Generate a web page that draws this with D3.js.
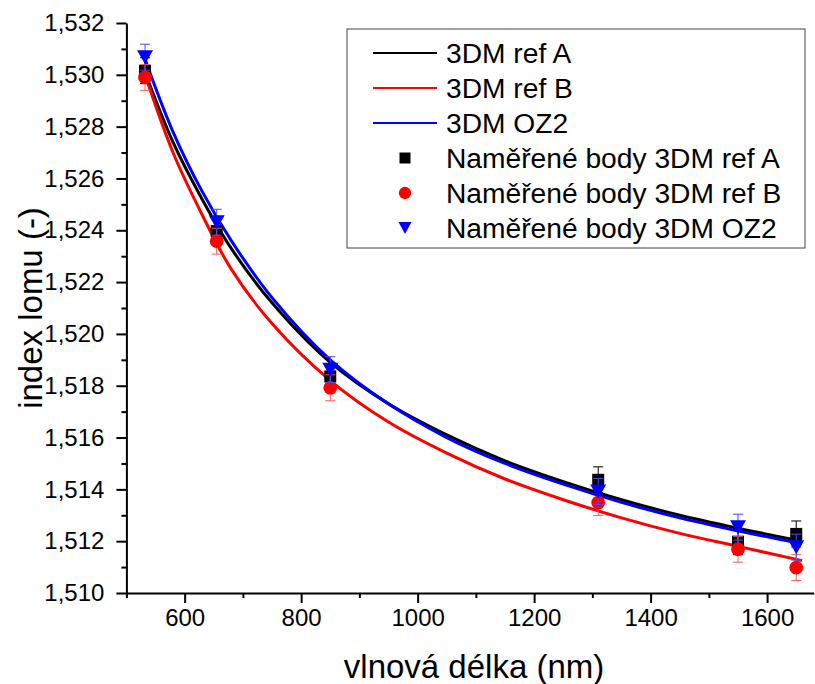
<!DOCTYPE html>
<html>
<head>
<meta charset="utf-8">
<script src="https://cdn.jsdelivr.net/npm/d3@7"></script>
<style>
  body { margin: 0; background: #fff; }
  svg { display: block; }
  text { font-family: "Liberation Sans", Arial, sans-serif; fill: #000; }
</style>
</head>
<body>
<svg id="chart" width="815" height="684"></svg>
<script>
// Measured wavelengths (nm) and refractive index of the three samples
const wavelengths = [532, 655, 850, 1310, 1550, 1650];
const measuredRefA = [1.53016, 1.52397, 1.51836, 1.51437, 1.51198, 1.51228];
const measuredRefB = [1.52990, 1.52358, 1.51792, 1.51349, 1.51169, 1.51098];
const measuredOZ2  = [1.53068, 1.52431, 1.51862, 1.51392, 1.51254, 1.51177];
const errRefA = [0.0005, 0.0005, 0.0005, 0.0005, 0.0005, 0.0005];
const errRefB = [0.0005, 0.0005, 0.0005, 0.0005, 0.0005, 0.0005];
const errOZ2  = [0.0005, 0.0005, 0.0005, 0.0005, 0.0005, 0.0005];

// Dispersion curves (fitted model), sampled along the wavelength range
const curveWavelengths = [532, 580, 630, 680, 750, 850, 950, 1050, 1150, 1250, 1350, 1450, 1550, 1660];
const curveRefA = [1.5301, 1.5274, 1.5252, 1.5233, 1.5212, 1.5189, 1.5173, 1.5161, 1.5151, 1.5143, 1.5136, 1.5130, 1.5125, 1.5120];
const curveRefB = [1.5300, 1.5270, 1.5246, 1.5225, 1.5204, 1.5182, 1.5166, 1.5154, 1.5144, 1.5136, 1.5129, 1.5123, 1.5118, 1.51125];
const curveOZ2  = [1.5306, 1.5278, 1.5255, 1.5236, 1.5214, 1.5190, 1.5173, 1.5160, 1.5150, 1.5142, 1.5135, 1.5129, 1.5124, 1.5119];

// Axis ticks
const xMajorTicks = [600, 800, 1000, 1200, 1400, 1600];
const xMinorTicks = [500, 700, 900, 1100, 1300, 1500];
const yMajorTicks = [1.510, 1.512, 1.514, 1.516, 1.518, 1.520, 1.522, 1.524, 1.526, 1.528, 1.530, 1.532];
const yMinorTicks = [1.511, 1.513, 1.515, 1.517, 1.519, 1.521, 1.523, 1.525, 1.527, 1.529, 1.531];

const lineLabels = ["3DM ref A", "3DM ref B", "3DM OZ2"];
const pointLabels = ["Naměřené body 3DM ref A", "Naměřené body 3DM ref B", "Naměřené body 3DM OZ2"];
const xTitle = "vlnová délka (nm)";
const yTitle = "index lomu (-)";

const svg = d3.select("#chart");
const plotLeft = 126.4, plotRight = 813.7, plotTop = 23, plotBottom = 593;

const x = d3.scaleLinear().domain([500, 1680]).range([plotLeft, plotRight]);
const y = d3.scaleLinear().domain([1.510, 1.532]).range([plotBottom, plotTop]);

const fmtY = d => d3.format(".3f")(d).replace(".", ",");
const fmtX = d3.format("d");
const tickFont = 24;

// ---- axes ----
const xAxisG = svg.append("g").attr("transform", `translate(0,${plotBottom})`);
xAxisG.append("g").call(d3.axisBottom(x).tickValues(xMinorTicks).tickSize(5).tickFormat(""))
  .call(g => g.select(".domain").remove());
xAxisG.append("g").call(d3.axisBottom(x).tickValues(xMajorTicks).tickSize(10).tickSizeOuter(0).tickPadding(6).tickFormat(fmtX))
  .call(g => g.selectAll("text").attr("font-size", tickFont).attr("font-family", '"Liberation Sans", Arial, sans-serif'));
xAxisG.selectAll("line").attr("stroke", "#000").attr("stroke-width", 2);
xAxisG.selectAll(".domain").attr("stroke", "#000").attr("stroke-width", 2);

const yAxisG = svg.append("g").attr("transform", `translate(${plotLeft},0)`);
yAxisG.append("g").call(d3.axisLeft(y).tickValues(yMinorTicks).tickSize(5).tickFormat(""))
  .call(g => g.select(".domain").remove());
yAxisG.append("g").call(d3.axisLeft(y).tickValues(yMajorTicks).tickSize(10).tickSizeOuter(0).tickPadding(12).tickFormat(fmtY))
  .call(g => g.selectAll("text").attr("font-size", tickFont).attr("font-family", '"Liberation Sans", Arial, sans-serif'));
yAxisG.selectAll("line").attr("stroke", "#000").attr("stroke-width", 2);
yAxisG.selectAll(".domain").attr("stroke", "#000").attr("stroke-width", 2);

// axis titles
svg.append("text").attr("x", (plotLeft + plotRight) / 2 + 4).attr("y", 678)
  .attr("text-anchor", "middle").attr("font-size", 33).text(xTitle);
svg.append("text").attr("transform", `translate(42,${(plotTop + plotBottom) / 2}) rotate(-90)`)
  .attr("text-anchor", "middle").attr("font-size", 33).text(yTitle);

// ---- fitted curves ----
const line = d3.line().curve(d3.curveCatmullRom.alpha(0.5))
  .x(d => x(d[0])).y(d => y(d[1]));
const curveSeries = [
  { vals: curveRefA, color: "#000000" },
  { vals: curveRefB, color: "#ff0000" },
  { vals: curveOZ2,  color: "#0000ff" }
];
curveSeries.forEach(s => {
  svg.append("path")
    .datum(curveWavelengths.map((w, i) => [w, s.vals[i]]))
    .attr("d", line).attr("fill", "none")
    .attr("stroke", s.color).attr("stroke-width", 3);
});

// ---- measured points with error bars ----
const symSquare = d3.symbol().type(d3.symbolSquare).size(144);
const symCircle = d3.symbol().type(d3.symbolCircle).size(150);
const triDown = (cx, cy, w, h) => `M${cx - w / 2},${cy - h / 2}L${cx + w / 2},${cy - h / 2}L${cx},${cy + h / 2}Z`;

const pointSeries = [
  { vals: measuredRefA, err: errRefA, color: "#000000", errColor: "#000000", kind: "square" },
  { vals: measuredRefB, err: errRefB, color: "#ff0000", errColor: "#ff5a5a", kind: "circle" },
  { vals: measuredOZ2,  err: errOZ2,  color: "#0000ff", errColor: "#4a4aff", kind: "triangle" }
];

pointSeries.forEach(s => {
  const g = svg.append("g");
  wavelengths.forEach((w, i) => {
    const cx = x(w), yT = y(s.vals[i] + s.err[i]), yB = y(s.vals[i] - s.err[i]);
    g.append("line").attr("x1", cx).attr("x2", cx).attr("y1", yT).attr("y2", yB)
      .attr("stroke", s.errColor).attr("stroke-width", 1);
    [yT, yB].forEach(yy => g.append("line").attr("x1", cx - 5).attr("x2", cx + 5)
      .attr("y1", yy).attr("y2", yy).attr("stroke", s.errColor).attr("stroke-width", 1));
  });
  wavelengths.forEach((w, i) => {
    const cx = x(w), cy = y(s.vals[i]);
    if (s.kind === "square") {
      g.append("path").attr("d", symSquare()).attr("transform", `translate(${cx},${cy})`).attr("fill", s.color);
    } else if (s.kind === "circle") {
      g.append("path").attr("d", symCircle()).attr("transform", `translate(${cx},${cy})`).attr("fill", s.color);
    } else {
      g.append("path").attr("d", triDown(cx, cy, 16, 14)).attr("fill", s.color);
    }
  });
});

// ---- legend ----
const lg = svg.append("g");
lg.append("rect").attr("x", 347).attr("y", 29).attr("width", 458).attr("height", 219)
  .attr("fill", "#fff").attr("stroke", "#444").attr("stroke-width", 1);
const rowY = i => 53 + i * 35;
const legendFont = 28.2;
lineLabels.forEach((lab, i) => {
  lg.append("line").attr("x1", 373).attr("x2", 437).attr("y1", rowY(i)).attr("y2", rowY(i))
    .attr("stroke", curveSeries[i].color).attr("stroke-width", 2);
  lg.append("text").attr("x", 446).attr("y", rowY(i) + 9.5).attr("font-size", legendFont).text(lab);
});
pointLabels.forEach((lab, j) => {
  const i = j + 3, cy = rowY(i), cx = 405;
  const s = pointSeries[j];
  if (s.kind === "square") {
    lg.append("path").attr("d", d3.symbol().type(d3.symbolSquare).size(121)()).attr("transform", `translate(${cx},${cy})`).attr("fill", s.color);
  } else if (s.kind === "circle") {
    lg.append("path").attr("d", d3.symbol().type(d3.symbolCircle).size(120)()).attr("transform", `translate(${cx},${cy})`).attr("fill", s.color);
  } else {
    lg.append("path").attr("d", triDown(cx, cy, 13, 12)).attr("fill", s.color);
  }
  lg.append("text").attr("x", 446).attr("y", cy + 9.5).attr("font-size", legendFont).text(lab);
});
</script>
</body>
</html>
